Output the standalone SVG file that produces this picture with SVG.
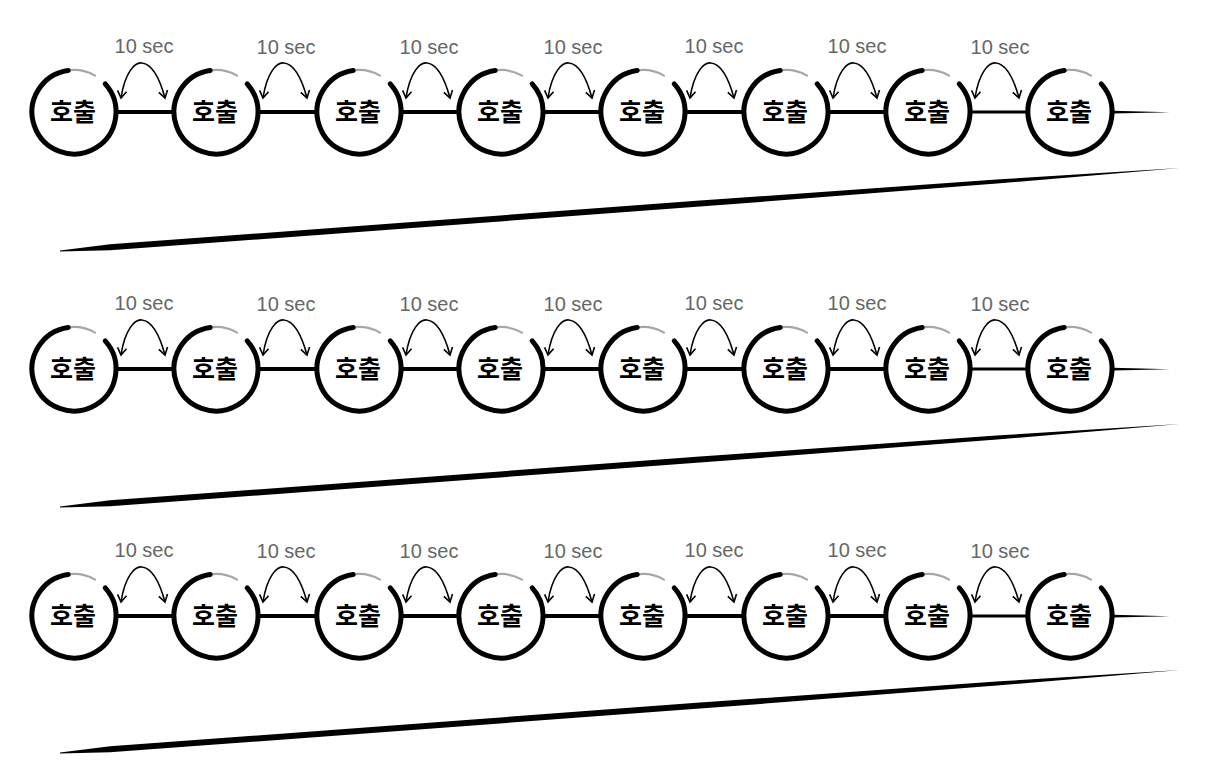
<svg xmlns="http://www.w3.org/2000/svg" xmlns:xlink="http://www.w3.org/1999/xlink" width="1223" height="776" viewBox="0 0 1223 776">
<style>
.ring{fill:none;stroke:#000;stroke-width:5;stroke-linecap:round}
.tail{fill:none;stroke:#000;stroke-width:2.2;stroke-opacity:0.35;stroke-linecap:round}
.lbl{font-family:"Noto Sans CJK KR","Noto Sans",sans-serif;font-weight:bold;font-size:25px;text-anchor:middle;fill:#000}
.sec{font-family:"Liberation Sans",Arial,sans-serif;font-size:20px;text-anchor:middle;fill:#666}
.link{stroke:#000;stroke-width:4;fill:none}
.link2{stroke:#000;stroke-width:3;fill:none}
.arc{fill:none;stroke:#000;stroke-width:1.6;marker-start:url(#ah);marker-end:url(#ah)}
.brush{fill:#000}
</style>
<defs>
<marker id="ah" markerUnits="userSpaceOnUse" markerWidth="12" markerHeight="12" viewBox="-9 -6 12 12" refX="0" refY="0" orient="auto-start-reverse">
<path d="M-7,-4.5 L0,0 L-7,4.5" fill="none" stroke="#000" stroke-width="1.6"/>
</marker>
<g id="ringshape">
<path class="ring" d="M31.21,-28.10 A42,42 0 1 1 -5.85,-41.59"/>
<path class="tail" d="M-5.85,-41.59 A42,42 0 0 1 21,-36.37"/>
</g>
<g id="rowlinks">
<line class="link" x1="118" y1="112" x2="172" y2="112"/>
<line class="link" x1="260" y1="112" x2="315" y2="112"/>
<line class="link" x1="403" y1="112" x2="457" y2="112"/>
<line class="link" x1="545" y1="112" x2="599" y2="112"/>
<line class="link" x1="687" y1="112" x2="742" y2="112"/>
<line class="link" x1="830" y1="112" x2="884" y2="112"/>
<line class="link2" x1="972" y1="112" x2="1026" y2="112"/>
<polygon class="brush" points="1113,110.8 1170,112.2 1113,113.4"/>
<path class="arc" d="M121 98 C125 72 135 62 142 63 C151 64 159 76 165 98"/>
<path class="arc" d="M263 98 C267 72 277 62 284 63 C293 64 301 76 307 98"/>
<path class="arc" d="M406 98 C410 72 420 62 427 63 C436 64 444 76 450 98"/>
<path class="arc" d="M548 98 C552 72 562 62 569 63 C578 64 586 76 592 98"/>
<path class="arc" d="M690 98 C694 72 704 62 711 63 C720 64 728 76 734 98"/>
<path class="arc" d="M833 98 C837 72 847 62 854 63 C863 64 871 76 877 98"/>
<path class="arc" d="M975 98 C979 72 989 62 996 63 C1005 64 1013 76 1019 98"/>
<text class="sec" x="144" y="53">10 sec</text>
<text class="sec" x="286" y="54">10 sec</text>
<text class="sec" x="429" y="54">10 sec</text>
<text class="sec" x="573" y="54">10 sec</text>
<text class="sec" x="714" y="53">10 sec</text>
<text class="sec" x="857" y="53">10 sec</text>
<text class="sec" x="1000" y="54">10 sec</text>
</g>
<polygon id="stroke" class="brush" points="60,250.4 110,244.3 700,200.6 1000,179.3 1180,168 1000,183.3 700,206.6 110,250.3 60,251.6"/>
</defs>
<rect width="1223" height="776" fill="#fff"/>
<g id="connectors">
<use xlink:href="#rowlinks" href="#rowlinks"/>
<use xlink:href="#rowlinks" href="#rowlinks" transform="translate(0,257)"/>
<use xlink:href="#rowlinks" href="#rowlinks" transform="translate(0,504)"/>
</g>
<g id="strokes">
<use xlink:href="#stroke" href="#stroke"/>
<use xlink:href="#stroke" href="#stroke" transform="translate(0,256)"/>
<use xlink:href="#stroke" href="#stroke" transform="translate(0,502)"/>
</g>
<g id="r1n1" transform="translate(74,112)"><use href="#ringshape"/><text class="lbl" x="-1" y="9">호출</text></g>
<g id="r1n2" transform="translate(216,112)"><use href="#ringshape"/><text class="lbl" x="-1" y="9">호출</text></g>
<g id="r1n3" transform="translate(359,112)"><use href="#ringshape"/><text class="lbl" x="-1" y="9">호출</text></g>
<g id="r1n4" transform="translate(501,112)"><use href="#ringshape"/><text class="lbl" x="-1" y="9">호출</text></g>
<g id="r1n5" transform="translate(643,112)"><use href="#ringshape"/><text class="lbl" x="-1" y="9">호출</text></g>
<g id="r1n6" transform="translate(786,112)"><use href="#ringshape"/><text class="lbl" x="-1" y="9">호출</text></g>
<g id="r1n7" transform="translate(928,112)"><use href="#ringshape"/><text class="lbl" x="-1" y="9">호출</text></g>
<g id="r1n8" transform="translate(1070,112)"><use href="#ringshape"/><text class="lbl" x="-1" y="9">호출</text></g>
<g id="r2n1" transform="translate(74,369)"><use href="#ringshape"/><text class="lbl" x="-1" y="9">호출</text></g>
<g id="r2n2" transform="translate(216,369)"><use href="#ringshape"/><text class="lbl" x="-1" y="9">호출</text></g>
<g id="r2n3" transform="translate(359,369)"><use href="#ringshape"/><text class="lbl" x="-1" y="9">호출</text></g>
<g id="r2n4" transform="translate(501,369)"><use href="#ringshape"/><text class="lbl" x="-1" y="9">호출</text></g>
<g id="r2n5" transform="translate(643,369)"><use href="#ringshape"/><text class="lbl" x="-1" y="9">호출</text></g>
<g id="r2n6" transform="translate(786,369)"><use href="#ringshape"/><text class="lbl" x="-1" y="9">호출</text></g>
<g id="r2n7" transform="translate(928,369)"><use href="#ringshape"/><text class="lbl" x="-1" y="9">호출</text></g>
<g id="r2n8" transform="translate(1070,369)"><use href="#ringshape"/><text class="lbl" x="-1" y="9">호출</text></g>
<g id="r3n1" transform="translate(74,616)"><use href="#ringshape"/><text class="lbl" x="-1" y="9">호출</text></g>
<g id="r3n2" transform="translate(216,616)"><use href="#ringshape"/><text class="lbl" x="-1" y="9">호출</text></g>
<g id="r3n3" transform="translate(359,616)"><use href="#ringshape"/><text class="lbl" x="-1" y="9">호출</text></g>
<g id="r3n4" transform="translate(501,616)"><use href="#ringshape"/><text class="lbl" x="-1" y="9">호출</text></g>
<g id="r3n5" transform="translate(643,616)"><use href="#ringshape"/><text class="lbl" x="-1" y="9">호출</text></g>
<g id="r3n6" transform="translate(786,616)"><use href="#ringshape"/><text class="lbl" x="-1" y="9">호출</text></g>
<g id="r3n7" transform="translate(928,616)"><use href="#ringshape"/><text class="lbl" x="-1" y="9">호출</text></g>
<g id="r3n8" transform="translate(1070,616)"><use href="#ringshape"/><text class="lbl" x="-1" y="9">호출</text></g>
</svg>
